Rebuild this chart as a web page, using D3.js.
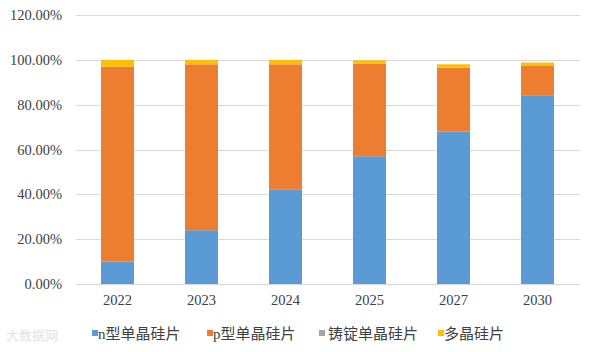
<!DOCTYPE html>
<html>
<head>
<meta charset="utf-8">
<script src="https://cdn.jsdelivr.net/npm/d3@7"></script>
<style>
  body { margin: 0; background: #fff; }
  svg { display: block; }
</style>
</head>
<body>
<div id="chart"></div>
<script>
var years = ["2022", "2023", "2024", "2025", "2027", "2030"];
var nType = [10, 24, 42, 57, 68, 84.2];
var pType = [87, 74, 56, 41.3, 28.5, 13.3];
var ingot = [0, 0, 0, 0, 0, 0];
var multi = [3, 2, 2, 1.5, 1.5, 1.3];
var seriesNames = ["n型单晶硅片", "p型单晶硅片", "铸锭单晶硅片", "多晶硅片"];
var seriesColors = ["#5B9BD5", "#ED7D31", "#A5A5A5", "#FFC000"];
var yTicks = [0, 20, 40, 60, 80, 100, 120];

var width = 596, height = 352;

var svg = d3.select("#chart").append("svg")
    .attr("width", width)
    .attr("height", height);

var x = d3.scaleBand()
    .domain(years)
    .range([75.5, 579.5])
    .paddingInner(0.607)
    .paddingOuter(0.3035);

var y = d3.scaleLinear()
    .domain([0, 120])
    .range([284, 15]);

// gridlines
svg.append("g").selectAll("line")
    .data(yTicks)
  .enter().append("line")
    .attr("x1", 76).attr("x2", 580)
    .attr("y1", function(d) { return Math.round(y(d)) + 0.5; })
    .attr("y2", function(d) { return Math.round(y(d)) + 0.5; })
    .attr("stroke", "#d9d9d9")
    .attr("stroke-width", 1);

// y labels
svg.append("g").selectAll("text")
    .data(yTicks)
  .enter().append("text")
    .attr("x", 62)
    .attr("y", function(d) { return y(d) + 5; })
    .attr("text-anchor", "end")
    .style("font-family", "'Liberation Serif', 'Times New Roman', serif")
    .style("font-size", "14.5px")
    .style("fill", "#404040")
    .text(function(d) { return d.toFixed(2) + "%"; });

// stacked data
var table = years.map(function(yr, i) {
  return { year: yr, n: nType[i], p: pType[i], ingot: ingot[i], multi: multi[i] };
});
var stack = d3.stack().keys(["n", "p", "ingot", "multi"]);
var layers = stack(table);

svg.append("g").selectAll("g")
    .data(layers)
  .enter().append("g")
    .attr("fill", function(d, i) { return seriesColors[i]; })
  .selectAll("rect")
    .data(function(d) { return d; })
  .enter().append("rect")
    .attr("x", function(d) { return x(d.data.year); })
    .attr("width", x.bandwidth())
    .attr("y", function(d) { return y(d[1]); })
    .attr("height", function(d) { return y(d[0]) - y(d[1]); });

// x labels
svg.append("g").selectAll("text")
    .data(years)
  .enter().append("text")
    .attr("x", function(d) { return x(d) + x.bandwidth() / 2; })
    .attr("y", 305)
    .attr("text-anchor", "middle")
    .style("font-family", "'Liberation Serif', 'Times New Roman', serif")
    .style("font-size", "14.5px")
    .style("fill", "#404040")
    .text(function(d) { return d; });

// legend
var legendX = [92, 207, 319, 438];
var legend = svg.append("g").selectAll("g")
    .data(seriesNames)
  .enter().append("g")
    .attr("transform", function(d, i) { return "translate(" + legendX[i] + ",333)"; });

legend.append("rect")
    .attr("x", 0).attr("y", -3)
    .attr("width", 6).attr("height", 6)
    .attr("fill", function(d, i) { return seriesColors[i]; });

legend.append("text")
    .attr("x", function(d, i) { return i == 2 ? 9 : 6; })
    .attr("y", 6)
    .style("font-family", "'Liberation Serif', 'Noto Sans CJK SC', serif")
    .style("font-size", "15px")
    .style("fill", "#404040")
    .text(function(d) { return d; });

// watermark
svg.append("text")
    .attr("x", 6).attr("y", 340)
    .style("font-family", "'Noto Sans CJK SC', sans-serif")
    .style("font-size", "13px")
    .style("fill", "#e3e3e3")
    .text("大数据网");
</script>
</body>
</html>
